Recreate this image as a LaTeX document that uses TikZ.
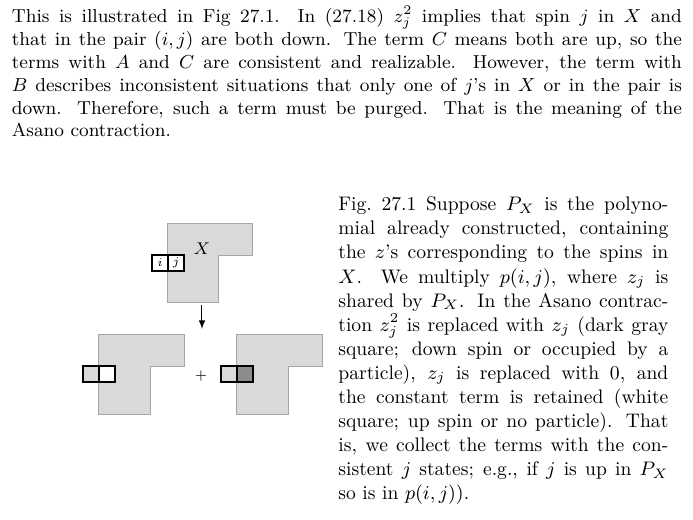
\RequirePackage{fix-cm}
\documentclass[tikz,border=0pt]{standalone}
\usepackage{xcolor}
\usepackage{tikz}

\begin{document}
\begin{tikzpicture}[x=0.5pt, y=-0.5pt, node distance=8pt,
    cell/.style={draw, rectangle, line width=1pt, minimum width=8pt, minimum height=8pt, inner sep=0pt, font=\fontsize{6pt}{7pt}\selectfont},
    region/.style={fill=gray!30, draw=gray!70, line width=0.5pt},
    textblock/.style={inner sep=0pt, anchor=north west, align=justify}]
    \useasboundingbox (0,0) rectangle (693,520);
    % running text above the figure
    \node[textblock, text width=335pt, font=\fontsize{9.4pt}{11.4pt}\selectfont] (para) at (11.5,6) {\strut This is illustrated in Fig 27.1.  In (27.18) $z_j^2$ implies that spin $j$ in $X$ and\linebreak
        that in the pair $(i,j)$ are both down. The term $C$ means both are up, so the\linebreak
        terms with $A$ and $C$ are consistent and realizable. However, the term with\linebreak
        $B$ describes inconsistent situations that only one of $j$'s in $X$ or in the pair is\linebreak
        down. Therefore, such a term must be purged. That is the meaning of the\linebreak
        Asano contraction.};
    % P_X with the pair (i,j)
    \draw[region] (168,223) -- (253,223) -- (253,255) -- (219,255) -- (219,302) -- (168,302) -- cycle;
    \node[cell, fill=white] (topi) at (160,263) {$i$};
    \node[cell, fill=white, right of=topi] (topj) {$j$};
    \node[font=\fontsize{8.5pt}{10pt}\selectfont] (labelX) at (202,249) {$X$};
    \coordinate (arrowtail) at (202,305);
    \coordinate (arrowhead) at (202,329);
    \draw[-latex, line width=0.5pt] (arrowtail) -- (arrowhead);
    % up spin term
    \draw[region] (99,334) -- (185,334) -- (185,366) -- (151,366) -- (151,414) -- (99,414) -- cycle;
    \node[cell, fill=gray!30] (lefti) at (91,374) {};
    \node[cell, fill=white, right of=lefti] (leftj) {};
    \node[font=\scriptsize] (plus) at (201,376) {$+$};
    % down spin term
    \draw[region] (237,334) -- (323,334) -- (323,366) -- (289,366) -- (289,414) -- (237,414) -- cycle;
    \node[cell, fill=gray!30] (righti) at (229,374) {};
    \node[cell, fill=gray!90, right of=righti] (rightj) {};
    % caption
    \node[textblock, text width=165pt, font=\fontsize{9.8pt}{12.05pt}\selectfont] (caption) at (338,193.5) {\strut Fig.~27.1 Suppose $P_X$ is the polyno-\linebreak
        mial already constructed, containing\linebreak
        the $z$'s corresponding to the spins in\linebreak
        $X$. We multiply $p(i,j)$, where $z_j$ is\linebreak
        shared by $P_X$. In the Asano contrac-\linebreak
        tion $z_j^2$ is replaced with $z_j$ (dark gray\linebreak
        square; down spin or occupied by a\linebreak
        particle), $z_j$ is replaced with 0, and\linebreak
        the constant term is retained (white\linebreak
        square; up spin or no particle). That\linebreak
        is, we collect the terms with the con-\linebreak
        sistent $j$ states; e.g., if $j$ is up in $P_X$\linebreak
        so is in $p(i,j))$.};
\end{tikzpicture}
\end{document}
